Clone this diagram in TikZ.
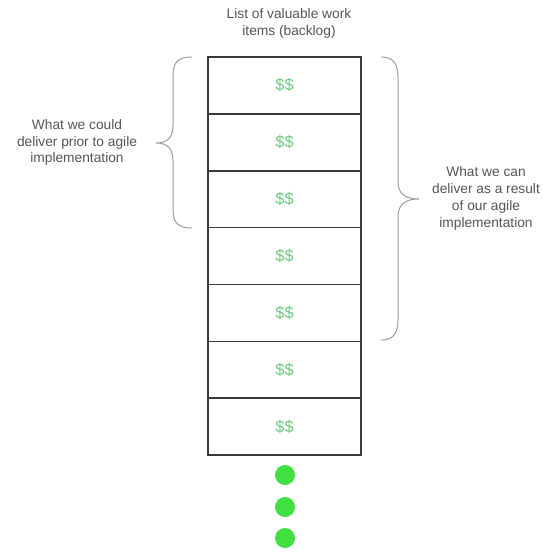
\documentclass[tikz,border=0pt]{standalone}
\usepackage{fontspec}
\setmainfont{Liberation Sans}
\definecolor{boxline}{HTML}{3A3A3A}
\definecolor{moneygreen}{HTML}{6CCB7E}
\definecolor{dotgreen}{HTML}{3FE03F}
\definecolor{labelgray}{HTML}{555555}
\definecolor{bracegray}{HTML}{9C9C9C}
\begin{document}
\begin{tikzpicture}[x=1bp,y=-1bp,
  rowbox/.style={draw=boxline, line width=1.6bp, minimum width=153bp, minimum height=56.86bp, inner sep=0pt, outer sep=0pt, font=\fontsize{16.5}{16.5}\selectfont, text=moneygreen},
  more/.style={circle, fill=dotgreen, minimum size=20bp, inner sep=0pt},
  lbl/.style={align=center, text=labelgray, font=\fontsize{13.8}{16.8}\selectfont, inner sep=0pt},
  bracepath/.style={draw=bracegray, line width=1bp}]
\useasboundingbox (0,0) rectangle (543,552);
\foreach \i in {0,...,6} {
  \node[rowbox] (r\i) at (284.5,{57+28.43+56.86*\i}) {\$\$};
}
\draw[boxline, line width=2.2bp] (r0.north west) rectangle (r6.south east);
\node[more] (d1) at (285,475) {};
\node[more] (d2) at (285,507) {};
\node[more] (d3) at (285,538) {};
\node[lbl] (top) at (289,23.5) {List of valuable work\\items (backlog)};
\node[lbl] (left) at (77,142.5) {What we could\\deliver prior to agile\\implementation};
\node[lbl] (right) at (486,198.5) {What we can\\deliver as a result\\of our agile\\implementation};
\coordinate (lt) at (192,57);
\coordinate (lb) at (192,228);
\coordinate (ltip) at (156,143);
\draw[bracepath] (lt) .. controls (178,57) and (173,62) .. (173,76) -- (173,125)
  .. controls (173,137) and (168,143) .. (ltip)
  .. controls (168,143) and (173,149) .. (173,161) -- (173,209)
  .. controls (173,223) and (178,228) .. (lb);
\coordinate (rt) at (381,57);
\coordinate (rb) at (381,340);
\coordinate (rtip) at (419,199);
\draw[bracepath] (rt) .. controls (393,57) and (398,63) .. (398,78) -- (398,181)
  .. controls (398,193) and (404,199) .. (rtip)
  .. controls (404,199) and (398,205) .. (398,217) -- (398,319)
  .. controls (398,334) and (393,340) .. (rb);
\end{tikzpicture}
\end{document}
